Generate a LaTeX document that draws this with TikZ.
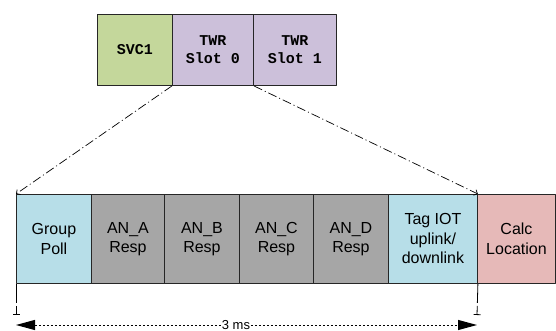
\documentclass[tikz,border=0pt]{standalone}
\usepackage{fontspec}
\setmainfont{Liberation Sans}
\newfontfamily\slotfont{Liberation Mono}
\usetikzlibrary{arrows.meta}

\definecolor{svcgreen}{HTML}{C4D79B}
\definecolor{twrlilac}{HTML}{CCC0DA}
\definecolor{pollblue}{HTML}{B7DEE8}
\definecolor{respgrey}{HTML}{A6A6A6}
\definecolor{calcpink}{HTML}{E6B9B8}

\tikzset{
	slotbox/.style={draw=black!85, line width=0.9pt, inner sep=0pt, align=center, anchor=north west},
	topslot/.style={slotbox, minimum height=71pt, font=\slotfont\bfseries\fontsize{15}{18}\selectfont},
	lowslot/.style={slotbox, minimum height=89pt, font=\fontsize{16}{19.5}\selectfont},
	zoomline/.style={line width=0.7pt, dash pattern=on 9pt off 3pt on 1pt off 3pt, -{Straight Barb[length=3pt,width=6pt]}},
	endmark/.style={line width=0.8pt, dash pattern=on 19pt off 3pt, -{Bar[width=7pt]}},
}

\begin{document}
\begin{tikzpicture}[x=1pt,y=-1pt,line join=round]
	\useasboundingbox (0,0) rectangle (556,331);
	% superframe
	\node[topslot, fill=svcgreen, minimum width=75pt] (svc) at (97,14) {SVC1};
	\node[topslot, fill=twrlilac, minimum width=81pt] (twra) at (172,14) {TWR\\Slot 0};
	\node[topslot, fill=twrlilac, minimum width=83pt] (twrb) at (253,14) {TWR\\Slot 1};
	% one TWR slot
	\node[lowslot, fill=pollblue, minimum width=75pt] (poll) at (16,194) {Group\\Poll};
	\foreach \n/\x/\w in {A/91/73,B/164/75,C/239/74,D/313/75}{
		\node[lowslot, fill=respgrey, minimum width=\w pt] (an\n) at (\x,194) {AN\_\n\\Resp};}
	\node[lowslot, fill=pollblue, minimum width=89pt] (iot) at (388,194) {Tag IOT\\uplink/\\downlink};
	\node[lowslot, fill=calcpink, minimum width=78pt] (calc) at (477,194) {Calc\\Location};
	% zoom lines
	\draw[zoomline] (twra.south west) -- (poll.north west);
	\draw[zoomline] (twra.south east) -- (iot.north east);
	% duration
	\coordinate (msl) at (16,325);
	\coordinate (msr) at (477,325);
	\draw[endmark] (poll.south west) -- (16,315);
	\draw[endmark] (iot.south east) -- (477,315);
	\draw[line width=1pt, dash pattern=on 2.5pt off 1.5pt,
		{Triangle[length=19pt,width=10pt]}-{Triangle[length=19pt,width=10pt]}] (msl) -- (msr);
	\node[fill=white, inner sep=1pt, font=\fontsize{13}{15}\selectfont] (ms) at (236,325) {3 ms};
\end{tikzpicture}
\end{document}
